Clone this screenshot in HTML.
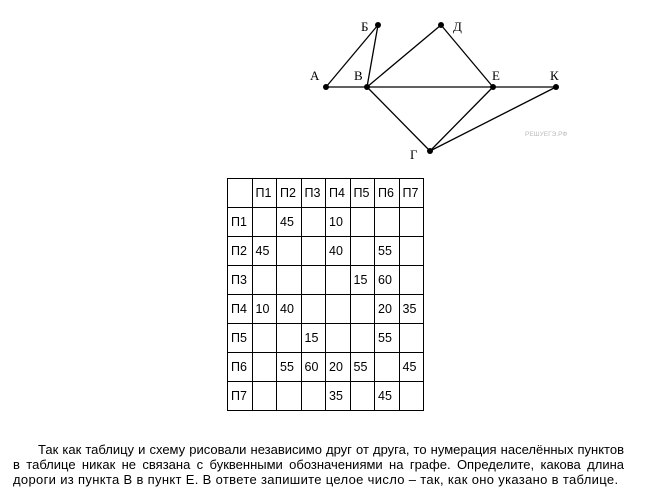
<!DOCTYPE html>
<html><head><meta charset="utf-8"><style>
body{margin:0;width:669px;height:488px;background:#fff;position:relative;overflow:hidden;font-family:"Liberation Sans","DejaVu Sans",sans-serif}
svg{position:absolute;left:0;top:0}
table{position:absolute;left:227px;top:178px;border-collapse:collapse;font-size:12.5px}
td{border:1.5px solid #000;width:20.5px;height:28px;padding:0 0 0 3px;text-align:left;vertical-align:middle}
.t{position:absolute;left:13px;width:611px;margin:0;font-size:13px;line-height:15.5px;text-align:justify;text-align-last:justify;white-space:nowrap}
.t.l{text-align-last:left;letter-spacing:0.33px}
</style></head><body>
<svg width="669" height="180" xmlns="http://www.w3.org/2000/svg">
<g stroke="#000" stroke-width="1.3" fill="none">
<line x1="326" y1="87" x2="556" y2="87"/>
<line x1="326" y1="87" x2="378" y2="25"/>
<line x1="367" y1="87" x2="378" y2="25"/>
<line x1="367" y1="87" x2="441" y2="25"/>
<line x1="441" y1="25" x2="493" y2="87"/>
<line x1="367" y1="87" x2="430" y2="151"/>
<line x1="493" y1="87" x2="430" y2="151"/>
<line x1="556" y1="87" x2="430" y2="151"/>
</g>
<g fill="#000">
<circle cx="326" cy="87" r="3"/><circle cx="378" cy="25" r="3"/><circle cx="441" cy="25" r="3"/>
<circle cx="367" cy="87" r="3"/><circle cx="493" cy="87" r="3"/><circle cx="556" cy="87" r="3"/>
<circle cx="430" cy="151" r="3"/>
</g>
<g font-family="Liberation Serif,serif" font-size="13" fill="#000">
<text x="310" y="80">А</text><text x="361" y="31">Б</text><text x="453" y="31">Д</text>
<text x="354" y="80">В</text><text x="492" y="80">Е</text><text x="550" y="80">К</text>
<text x="410" y="159">Г</text>
</g>
<text x="525" y="136" font-size="6.5" fill="#bbb">РЕШУЕГЭ.РФ</text>
</svg>
<table>
<tr><td></td><td>П1</td><td>П2</td><td>П3</td><td>П4</td><td>П5</td><td>П6</td><td>П7</td></tr>
<tr><td>П1</td><td></td><td>45</td><td></td><td>10</td><td></td><td></td><td></td></tr>
<tr><td>П2</td><td>45</td><td></td><td></td><td>40</td><td></td><td>55</td><td></td></tr>
<tr><td>П3</td><td></td><td></td><td></td><td></td><td>15</td><td>60</td><td></td></tr>
<tr><td>П4</td><td>10</td><td>40</td><td></td><td></td><td></td><td>20</td><td>35</td></tr>
<tr><td>П5</td><td></td><td></td><td>15</td><td></td><td></td><td>55</td><td></td></tr>
<tr><td>П6</td><td></td><td>55</td><td>60</td><td>20</td><td>55</td><td></td><td>45</td></tr>
<tr><td>П7</td><td></td><td></td><td></td><td>35</td><td></td><td>45</td><td></td></tr>
</table>
<div class="t" style="top:442px;left:38px;width:586px">Так как таблицу и схему рисовали независимо друг от друга, то нумерация населённых пунктов</div>
<div class="t" style="top:457px">в таблице никак не связана с буквенными обозначениями на графе. Определите, какова длина</div>
<div class="t l" style="top:472px">дороги из пункта В в пункт Е. В ответе запишите целое число – так, как оно указано в таблице.</div>
</body></html>
